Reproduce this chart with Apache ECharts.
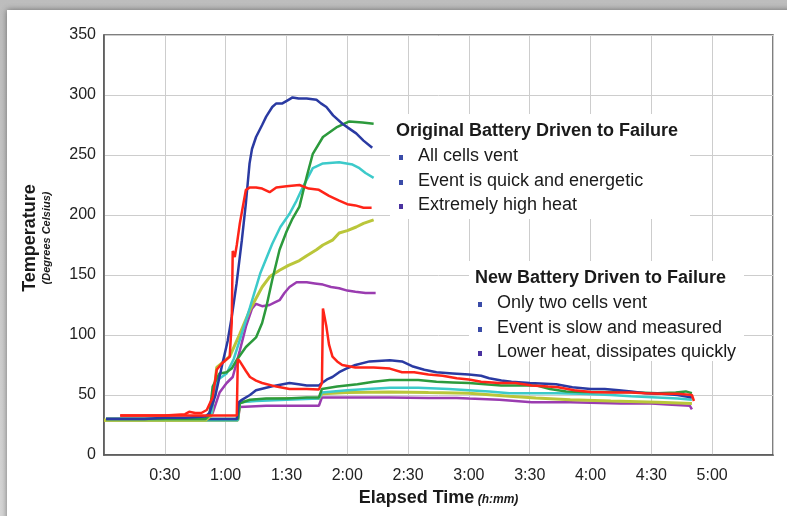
<!DOCTYPE html>
<html>
<head>
<meta charset="utf-8">
<title>Battery temperature</title>
<script src="https://cdn.jsdelivr.net/npm/echarts@6/dist/echarts.min.js"></script>
<style>
  html, body { margin: 0; padding: 0; }
  body { width: 787px; height: 516px; overflow: hidden; position: relative;
         background: linear-gradient(#bdbdbd, #d6d6d6); }
  .card { position: absolute; left: 7px; top: 10px; width: 800px; height: 530px;
          background: #fff; box-shadow: 0 0 6px rgba(0,0,0,0.45); }
  #chart { position: absolute; left: 0; top: 0; width: 787px; height: 516px; }
</style>
</head>
<body>
<div class="card"></div>
<div id="chart"></div>
<script>
// elapsed time in minutes, temperature in degrees C
// original battery driven to failure
const origBlueT = [1, 10, 20, 30, 40, 50, 52, 55, 58, 61, 63, 65.4, 68, 70, 71.8, 73, 75, 78, 80, 83, 85, 88, 91, 93, 96, 100, 104.8, 107, 109.7, 113, 117.6, 121, 124.4, 128, 132.3];
const origBlueV = [30, 30, 30, 31, 31, 32, 35, 50, 73, 95, 115, 143, 179, 210, 243, 255, 265, 275, 282, 290, 293, 293, 296, 298, 297, 297, 296, 293, 290, 283, 276, 272, 268, 262, 256];

const origRedT = [8, 20, 30, 40, 42, 45, 48, 50.7, 53.6, 55.6, 58, 62, 63, 63.5, 64.5, 65.5, 67, 70, 72, 75, 78, 81.7, 85, 90, 96.4, 101, 106, 111, 116, 120, 124, 128, 132];
const origRedV = [33, 33, 33, 34, 36, 35, 35, 37.5, 48, 71, 76, 82, 110, 170, 165, 175, 193, 221, 223, 223, 222, 219, 223, 224, 225, 222, 221, 216, 212, 209, 208, 206, 206];

const origGreenT = [1, 20, 40, 50, 52, 53.6, 57, 60.5, 63, 65.4, 70, 75, 78, 80, 83, 86.6, 90, 93, 96.4, 100, 103, 108, 114.6, 121, 127.5, 133];
const origGreenV = [30, 30, 30, 30, 33, 57, 68, 69, 72, 79, 90, 98, 110, 123, 146, 171, 186, 197, 207, 232, 251, 265, 273, 278, 277, 276];

const origCyanT = [1, 20, 40, 50, 53, 55.6, 60.5, 64, 67, 72, 77, 83, 87, 91.5, 95, 98, 103, 108, 116, 122.6, 126, 129, 133];
const origCyanV = [30, 30, 30, 30, 35, 62, 68, 80, 96, 123, 151, 176, 190, 201, 212, 223, 239, 243, 244, 242, 239, 235, 231];

const origYellowT = [0, 20, 40, 50, 53, 55.6, 62, 67, 72, 78, 82, 86.6, 91, 96.4, 100, 104.8, 108, 112.7, 116, 120, 124.4, 128, 133];
const origYellowV = [29, 29, 29, 29, 33, 73, 82, 101, 121, 140, 149, 154, 158, 162, 166, 171, 175, 179, 185, 187, 190, 193, 196];

const origPurpleT = [1, 20, 40, 50, 53.6, 57, 60.5, 63.5, 67, 70, 73, 75, 78, 81.7, 84, 86.6, 89, 91.5, 95, 100, 104, 108, 112, 116, 120, 124, 129, 134];
const origPurpleV = [30, 30, 30, 30, 35, 52, 60, 65, 87, 107, 122, 126, 124, 125, 127, 129, 135, 140, 144, 144, 143, 142, 140, 139, 137, 136, 135, 135];

// new battery driven to failure
const newRedT = [8, 30, 50, 65.5, 66, 67, 70, 72, 75, 78, 85, 91.5, 100, 106, 107.5, 108, 109.7, 111, 112.7, 115, 117.5, 124, 133, 141, 147, 153, 160, 167, 174, 180, 186, 195, 203, 211, 219, 224, 232, 240, 250, 260, 267, 275, 283, 290, 291];
const newRedV = [33, 33, 33, 33, 80, 78, 70, 65, 62, 60, 57, 55, 55, 54.5, 60, 122, 107, 92, 82, 78, 75, 73, 73, 72, 69, 69, 67, 66, 64, 63, 61, 60, 60, 58, 57, 56.5, 54, 52.5, 52, 52, 51.5, 51, 51, 50, 45];

const newBlueT = [1, 30, 60, 65.5, 66.5, 68, 72, 75, 80, 85, 91.5, 96, 100, 106, 107.5, 110, 112.7, 116, 119.5, 124, 131, 141, 147, 152, 158, 164, 172, 180, 186, 190, 196, 201, 210, 223, 231, 240, 247, 254, 260, 267, 275, 283, 290];
const newBlueV = [30, 30, 30, 30, 44, 46, 50, 54, 56, 58, 60, 59, 58, 58, 60, 63, 65, 69, 72, 75, 78, 79, 78, 74, 71, 69, 68, 67, 66, 64, 62, 61, 60, 59, 56.5, 55, 55, 54, 53, 51.5, 51, 50, 48];

const newGreenT = [1, 30, 60, 66, 67, 72, 80, 90, 100, 106, 107.5, 115, 125, 133, 141, 155, 164, 172, 180, 196, 213, 220, 228, 237, 257, 273, 282, 287, 290];
const newGreenV = [30, 30, 30, 30, 43, 46, 47, 47, 48, 48, 55, 57, 59, 61, 62.5, 62.5, 61, 60.5, 60, 58, 58, 55, 53, 52.5, 52.5, 51.5, 52, 53, 51.5];

const newCyanT = [1, 30, 60, 66, 67, 75, 90, 106, 107.5, 120, 130, 141, 155, 170, 180, 190, 200, 213, 223, 235, 250, 260, 273, 283, 290];
const newCyanV = [29, 29, 29, 29, 44, 45, 46, 47, 52, 54, 55, 56, 56, 55, 54, 53, 51.5, 51.5, 51.5, 51, 50, 49, 48, 47, 46];

const newYellowT = [0, 30, 60, 66, 67, 75, 90, 106, 107.5, 120, 141, 160, 180, 200, 213, 230, 250, 273, 290];
const newYellowV = [29, 29, 29, 29, 44, 46, 47, 47, 51, 52, 52.5, 52, 51.5, 49, 47.5, 46, 45, 44, 43];

const newPurpleT = [1, 30, 60, 66, 67, 80, 106, 107.5, 120, 141, 160, 174, 180, 195, 211, 230, 255, 270, 278, 289, 290];
const newPurpleV = [29, 29, 29, 29, 40, 41, 41, 48, 48, 48, 47.5, 47.5, 47, 46, 44, 44, 43, 43, 42, 41, 38];

const noteOriginal = ['Original Battery Driven to Failure', 'All cells vent', 'Event is quick and energetic', 'Extremely high heat'];
const noteNew = ['New Battery Driven to Failure', 'Only two cells vent', 'Event is slow and measured', 'Lower heat, dissipates quickly'];

const colors = {
  blue: '#2a3aa2',
  red: '#ff2418',
  green: '#2c9a3c',
  cyan: '#3ccaca',
  yellow: '#bac63a',
  purple: '#9a3cb0'
};

const FONT = '"Liberation Sans", Arial, sans-serif';

function zip(t, v) {
  return t.map((x, i) => [x, v[i]]);
}

function line(name, t, v, color, width) {
  return {
    name: name,
    type: 'line',
    data: zip(t, v),
    showSymbol: false,
    symbol: 'none',
    lineStyle: { color: color, width: width || 2.5 },
    itemStyle: { color: color },
    emphasis: { disabled: true }
  };
}

// text block with a white box behind it, which hides the grid lines
function note(lines, x, y, w, h) {
  const out = [{
    type: 'rect', z: 1, shape: { x: x - 6, y: y - 8, width: w, height: h },
    style: { fill: '#fff' }
  }, {
    type: 'text', z: 5, left: x, top: y,
    style: { text: lines[0], font: 'bold 18px ' + FONT, fill: '#1a1a1a' }
  }];
  for (let i = 1; i < lines.length; i++) {
    const yy = y + 25 * i - (i === 3 ? 1 : 0);
    out.push({
      type: 'rect', z: 5, shape: { x: x + 3, y: yy + 8, width: 4, height: 5 },
      style: { fill: i === 3 ? '#4a32a0' : '#3a4ca8' }
    });
    out.push({
      type: 'text', z: 5, left: x + 22, top: yy,
      style: { text: lines[i], font: '18px ' + FONT, fill: '#1a1a1a' }
    });
  }
  return out;
}

const chart = echarts.init(document.getElementById('chart'));

chart.setOption({
  animation: false,
  grid: { left: 104, top: 35, right: 14, bottom: 61, show: true, borderColor: '#555', borderWidth: 1.5 },
  xAxis: {
    type: 'value',
    min: 0, max: 330, interval: 30,
    name: '{a|Elapsed Time} {b|(h:mm)}',
    nameLocation: 'middle',
    nameGap: 34,
    nameTextStyle: {
      rich: {
        a: { fontFamily: FONT, fontWeight: 'bold', fontSize: 18, color: '#1a1a1a' },
        b: { fontFamily: FONT, fontWeight: 'bold', fontStyle: 'italic', fontSize: 12, color: '#1a1a1a', padding: [4, 0, 0, 0] }
      }
    },
    axisLine: { show: true, lineStyle: { color: '#555', width: 1.5 } },
    axisTick: { show: false },
    axisLabel: {
      showMinLabel: false, showMaxLabel: false,
      margin: 13,
      color: '#222',
      fontFamily: FONT,
      fontSize: 16,
      formatter: v => Math.floor(v / 60) + ':' + String(v % 60).padStart(2, '0')
    },
    splitLine: { show: true, lineStyle: { color: '#cdcdcd', width: 1 } }
  },
  yAxis: {
    type: 'value',
    min: 0, max: 350, interval: 50,
    name: '{a|Temperature}\n{b|(Degrees Celsius)}',
    nameLocation: 'middle',
    nameRotate: 90,
    nameGap: 50,
    nameTextStyle: {
      align: 'center',
      padding: [0, 0, 0, 14],
      rich: {
        a: { fontFamily: FONT, fontWeight: 'bold', fontSize: 18, color: '#1a1a1a', lineHeight: 19, align: 'center' },
        b: { fontFamily: FONT, fontWeight: 'bold', fontStyle: 'italic', fontSize: 11, color: '#1a1a1a', lineHeight: 14, align: 'center' }
      }
    },
    axisLine: { show: true, lineStyle: { color: '#555', width: 1.5 } },
    axisTick: { show: false },
    axisLabel: {
      margin: 8,
      color: '#222',
      fontFamily: FONT,
      fontSize: 16
    },
    splitLine: { show: true, lineStyle: { color: '#cdcdcd', width: 1 } }
  },
  series: [
    line('New purple', newPurpleT, newPurpleV, colors.purple),
    line('New yellow', newYellowT, newYellowV, colors.yellow, 3),
    line('New cyan', newCyanT, newCyanV, colors.cyan),
    line('New green', newGreenT, newGreenV, colors.green),
    line('New blue', newBlueT, newBlueV, colors.blue),
    line('Original purple', origPurpleT, origPurpleV, colors.purple),
    line('Original yellow', origYellowT, origYellowV, colors.yellow, 3),
    line('Original cyan', origCyanT, origCyanV, colors.cyan),
    line('Original green', origGreenT, origGreenV, colors.green),
    line('Original blue', origBlueT, origBlueV, colors.blue),
    line('Original red', origRedT, origRedV, colors.red),
    line('New red', newRedT, newRedV, colors.red)
  ],
  graphic: note(noteOriginal, 396, 122, 300, 105).concat(note(noteNew, 475, 269, 275, 100))
});
</script>
</body>
</html>
